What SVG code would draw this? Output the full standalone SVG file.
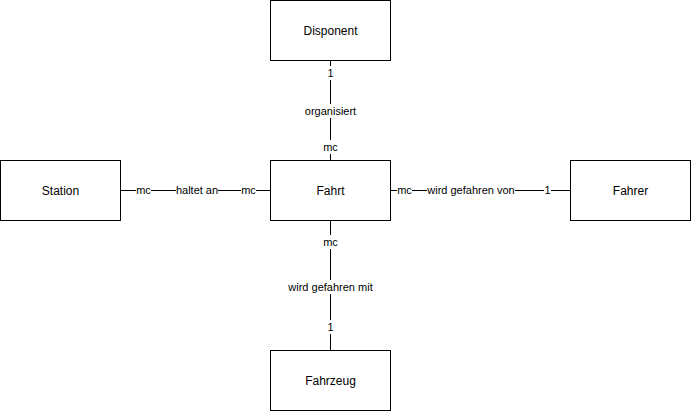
<svg xmlns="http://www.w3.org/2000/svg" width="691" height="412" viewBox="0 0 691 412">
<style>
.box{fill:#fff;stroke:#000;stroke-width:1}
.nt{font-family:"Liberation Sans",Arial,sans-serif;font-size:12px;fill:#000;text-anchor:middle;dominant-baseline:central}
.el{font-family:"Liberation Sans",Arial,sans-serif;font-size:11px;fill:#000;text-anchor:middle;dominant-baseline:central}
.bg{fill:#fff}
.ln{stroke:#000;stroke-width:1;fill:none}
</style>
<rect width="691" height="412" fill="#fff"/>
<g id="connectors">
<g id="e-organisiert">
<path class="ln" d="M330.5 60.5V160.5"/>
<rect class="bg" x="327" y="66" width="7" height="14"/>
<text class="el" x="330.5" y="73">1</text>
<rect class="bg" x="303" y="104" width="55" height="14"/>
<text class="el" x="330.5" y="111">organisiert</text>
<rect class="bg" x="323" y="140" width="15" height="14"/>
<text class="el" x="330.5" y="147">mc</text>
</g>
<g id="e-haltet">
<path class="ln" d="M120.5 190.5H270.5"/>
<rect class="bg" x="136" y="183" width="15" height="14"/>
<text class="el" x="143.5" y="190">mc</text>
<rect class="bg" x="176" y="183" width="42" height="14"/>
<text class="el" x="197" y="190">haltet an</text>
<rect class="bg" x="241" y="183" width="15" height="14"/>
<text class="el" x="248.5" y="190">mc</text>
</g>
<g id="e-von">
<path class="ln" d="M390.5 190.5H570.5"/>
<rect class="bg" x="397" y="183" width="15" height="14"/>
<text class="el" x="404.5" y="190">mc</text>
<rect class="bg" x="427" y="183" width="88" height="14"/>
<text class="el" x="471" y="190">wird gefahren von</text>
<rect class="bg" x="544" y="183" width="7" height="14"/>
<text class="el" x="547.5" y="190">1</text>
</g>
<g id="e-mit">
<path class="ln" d="M330.5 220.5V350.5"/>
<rect class="bg" x="323" y="235" width="15" height="14"/>
<text class="el" x="330.5" y="242">mc</text>
<rect class="bg" x="287" y="280" width="87" height="14"/>
<text class="el" x="330.5" y="287">wird gefahren mit</text>
<rect class="bg" x="327" y="320" width="7" height="14"/>
<text class="el" x="330.5" y="327">1</text>
</g>
</g>
<g id="disponent"><rect class="box" x="270.5" y="0.5" width="120" height="60"/><text class="nt" x="330.5" y="30.5">Disponent</text></g>
<g id="fahrt"><rect class="box" x="270.5" y="160.5" width="120" height="60"/><text class="nt" x="330.5" y="190.5">Fahrt</text></g>
<g id="station"><rect class="box" x="0.5" y="160.5" width="120" height="60"/><text class="nt" x="60.5" y="190.5">Station</text></g>
<g id="fahrer"><rect class="box" x="570.5" y="160.5" width="120" height="60"/><text class="nt" x="630.5" y="190.5">Fahrer</text></g>
<g id="fahrzeug"><rect class="box" x="270.5" y="350.5" width="120" height="60"/><text class="nt" x="330.5" y="380.5">Fahrzeug</text></g>
</svg>
